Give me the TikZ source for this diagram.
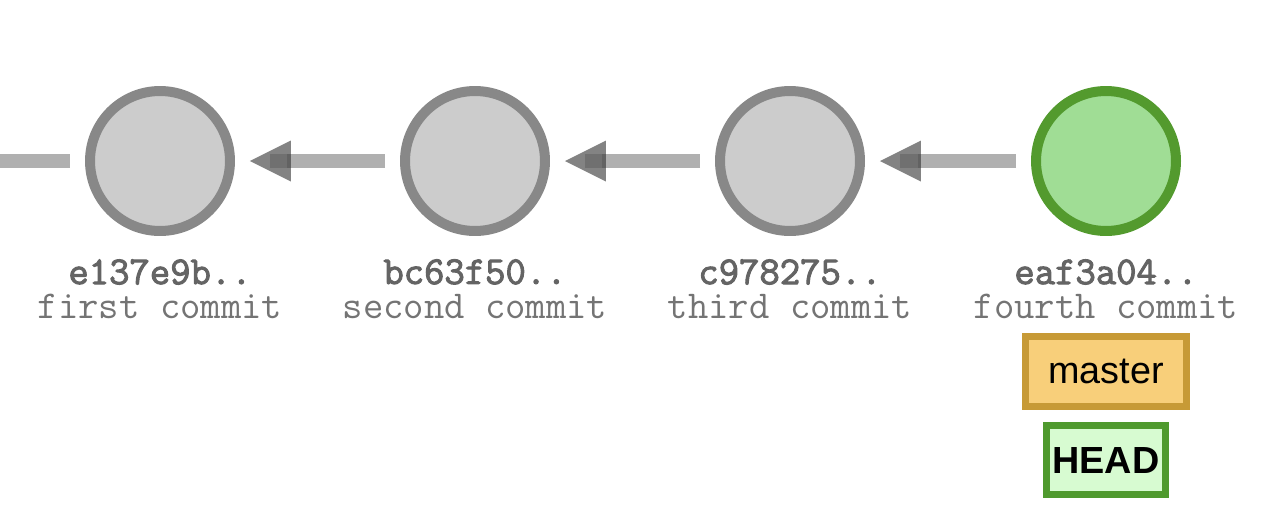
\documentclass[tikz,border=0pt]{standalone}
\usepackage{fontspec}
\setmainfont{Liberation Sans}
\newfontfamily\hashfont{Latin Modern Mono}[FakeBold=2.5]
\usepackage{xcolor}
\definecolor{commitfill}{HTML}{CCCCCC}
\definecolor{commitline}{HTML}{888888}
\definecolor{headfill}{HTML}{A0DD95}
\definecolor{headline}{HTML}{539A2E}
\definecolor{edgeline}{HTML}{B0B0B0}
\definecolor{edgetip}{HTML}{5E5E5E}
\definecolor{hashtext}{HTML}{646464}
\definecolor{msgtext}{HTML}{747474}
\definecolor{branchfill}{HTML}{F8CF7A}
\definecolor{branchline}{HTML}{C79A36}
\definecolor{reffill}{HTML}{D7FBD1}
\definecolor{refline}{HTML}{4F9A2E}
\usepackage{tikz}
\usetikzlibrary{shapes,arrows.meta,positioning,calc}

\newcommand{\commitinfo}[2]{{\hashfont\color{hashtext}#1}\\{\ttfamily\color{msgtext}#2}}

\tikzset{
  commit/.style={circle, fill=commitfill, draw=commitline, line width=0.2cm, minimum size=2.8cm, inner sep=0pt},
  parent/.style={draw=edgeline, line width=0.28cm, shorten <=0.3cm, shorten >=0.7cm,
    postaction={draw=edgetip, opacity=0.77, shorten <=2.26cm, shorten >=0.3cm, -{Triangle[length=0.82cm, width=0.82cm, line width=0pt, color=edgetip, fill=edgetip]}}},
  info/.style={font=\fontsize{22.5}{19.8}\selectfont, align=center, anchor=north, inner sep=0pt}
}

\begin{document}
\begin{tikzpicture}[x=0.02cm, y=-0.02cm]
        \useasboundingbox (0,0) rectangle (1270,528);
        % Commit history
        \coordinate (tail) at (0,161);
        \node[commit] (first) at (160,161) {};
        \node[commit] (second) at (475,161) {};
        \node[commit] (third) at (790,161) {};
        \node[commit, fill=headfill, draw=headline] (fourth) at (1106,161) {};
        \draw[edgeline, line width=0.28cm, shorten >=0.3cm] (tail) -- (first.west);
        \draw[parent] (second.west) -- (first.east);
        \draw[parent] (third.west) -- (second.east);
        \draw[parent] (fourth.west) -- (third.east);
        \node[info] (firstinfo) at (160,259) {\commitinfo{e137e9b..}{first commit}};
        \node[info] (secondinfo) at (475,259) {\commitinfo{bc63f50..}{second commit}};
        \node[info] (thirdinfo) at (790,259) {\commitinfo{c978275..}{third commit}};
        \node[info] (fourthinfo) at (1106,259) {\commitinfo{eaf3a04..}{fourth commit}};
        % Refs
        \node[rectangle, fill=branchfill, draw=branchline, line width=0.14cm, minimum width=3.22cm, minimum height=1.4cm, font=\fontsize{21.5}{24}\selectfont, inner sep=0pt] (master) at (1106,371.5) {master};
        \node[rectangle, fill=reffill, draw=refline, line width=0.14cm, minimum width=2.38cm, minimum height=1.38cm, font=\fontsize{21.5}{24}\selectfont\bfseries, inner sep=0pt] (head) at (1106,460) {HEAD};
      \end{tikzpicture}
\end{document}
